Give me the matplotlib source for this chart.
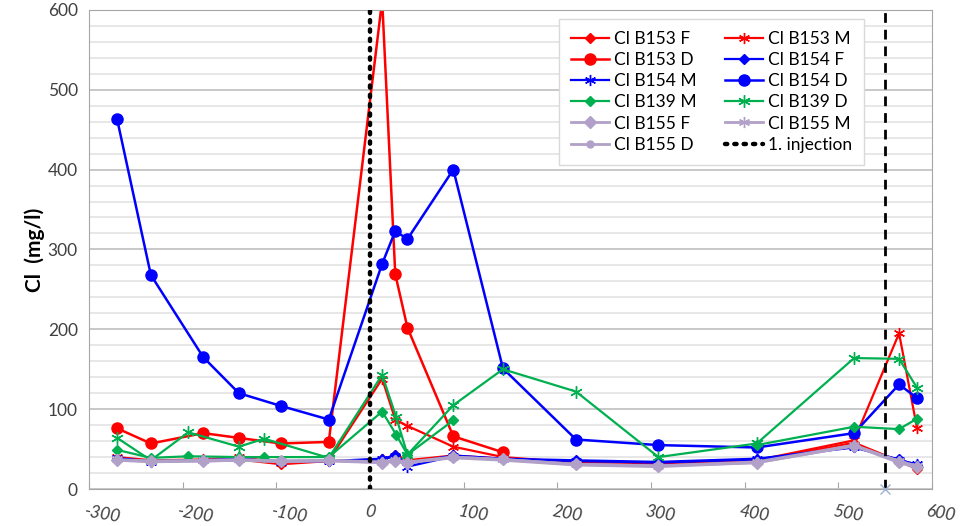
import numpy as np
import matplotlib.pyplot as plt
from matplotlib.transforms import ScaledTranslation

plt.rcParams['font.family'] = ['Lato', 'DejaVu Sans']
plt.rcParams['axes.unicode_minus'] = False

nan = np.nan

# sampling times (days relative to 1. injection)
t_main = [-270, -234, -178, -140, -95, -44, 13, 27, 40, 89, 142, 220, 308, 413, 517, 565, 584]
t_b153d = [-270, -234, -178, -140, -95, -44, 13, 27, 40, 89, 142]
t_b139 = [-270, -234, -194, -140, -113, -44, 13, 28, 40, 89, 142, 220, 308, 413, 517, 565, 584]

b153_f = [38, 35, 36, 37, 31, 35, 37, 43, 36, 42, 38, 33, 31, 35, 58, 35, 25]
b153_m = [40, 36, 37, 40, 33, 36, 138, 87, 79, 53, 40, 33, 31, 36, 61, 195, 77]
b153_d = [76, 57, 70, 64, 57, 59, 612, 269, 202, 66, 46]
b154_f = [38, 35, 36, 37, 35, 35, 38, 42, 32, 42, 38, 36, 34, 38, 52, 37, 30]
b154_m = [39, 34, 36, 38, 34, 35, 37, 41, 28, 41, 37, 35, 33, 37, 53, 36, 31]
b154_d = [463, 268, 165, 120, 104, 87, 282, 323, 313, 400, 151, 62, 55, 52, 70, 131, 114]
b139_m = [49, 39, 41, 40, 40, 40, 97, 68, 43, 86, nan, nan, nan, 55, 78, 75, 88]
b139_d = [64, 36, 71, 53, 63, 39, 143, 90, 43, 105, 150, 122, 40, 57, 164, 163, 127]
b155_f = [36, 35, 35, 36, 35, 36, 33, 35, 33, 40, 37, 31, 29, 33, 54, 34, 28]
b155_m = [37, 35, 36, 37, 35, 36, 34, 36, 34, 40, 37, 31, 29, 34, 55, 35, 29]
b155_d = [36, 34, 35, 36, 34, 35, 33, 35, 33, 39, 36, 30, 28, 33, 54, 33, 27]

RED = '#FF0000'
BLUE = '#0000FF'
GREEN = '#00B050'
LILAC = '#B1A0C7'
star = (6, 2, 0)

fig = plt.figure(figsize=(9.71, 5.26), dpi=100)
ax = fig.add_axes([0.0917, 0.0703, 0.868, 0.911])

h = {}
h['Cl B153 F'], = ax.plot(t_main, b153_f, color=RED, marker='D', ms=5, lw=1.6)
h['Cl B153 M'], = ax.plot(t_main, b153_m, color=RED, marker=star, ms=8, mew=1, lw=1.6)
h['Cl B153 D'], = ax.plot(t_b153d, b153_d, color=RED, marker='o', ms=8, lw=1.8)
h['Cl B154 F'], = ax.plot(t_main, b154_f, color=BLUE, marker='D', ms=5, lw=1.6)
h['Cl B154 M'], = ax.plot(t_main, b154_m, color=BLUE, marker=star, ms=8, mew=1, lw=1.6)
h['Cl B154 D'], = ax.plot(t_main, b154_d, color=BLUE, marker='o', ms=8, lw=1.8)
h['Cl B139 M'], = ax.plot(t_b139, b139_m, color=GREEN, marker='D', ms=5, lw=1.6)
h['Cl B139 D'], = ax.plot(t_b139, b139_d, color=GREEN, marker=star, ms=9, mew=1, lw=1.6)
h['Cl B155 F'], = ax.plot(t_main, b155_f, color=LILAC, marker='D', ms=6, lw=2)
h['Cl B155 M'], = ax.plot(t_main, b155_m, color=LILAC, marker=star, ms=8, mew=1, lw=2)
h['Cl B155 D'], = ax.plot(t_main, b155_d, color=LILAC, marker='o', ms=5, lw=2)

# injection markers
h['1. injection'] = ax.axvline(0, color='black', ls=(0, (0.5, 1.6)), lw=3.2,
                               dash_capstyle='round', zorder=5)
ax.axvline(550, color='black', ls=(0, (3.5, 2.5)), lw=2, zorder=5)
ax.plot([550], [0], marker='x', color='#9DB3D6', ms=7, mew=1, clip_on=False, zorder=6)

ax.set_xlim(-300, 600)
ax.set_ylim(0, 600)
ax.set_xticks(range(-300, 601, 100))
ax.set_yticks(range(0, 601, 100))
ax.set_yticks(range(0, 601, 20), minor=True)
ax.grid(True, axis='y', which='major', color='#BFBFBF', lw=1.2)
ax.grid(True, axis='y', which='minor', color='#E3E3E3', lw=1.2)
ax.set_axisbelow(True)

for s in ax.spines.values():
    s.set_color('#A6A6A6')
ax.tick_params(axis='y', which='both', length=0, labelsize=12.5, labelcolor='#404040', pad=8)
ax.tick_params(axis='x', length=5, direction='in', color='#A6A6A6', labelsize=12.5,
               labelcolor='#404040', pad=10)
shift = ScaledTranslation(-4 / 100, 0, fig.dpi_scale_trans)
for lab in ax.get_xticklabels():
    lab.set_rotation(-10)
    lab.set_style('italic')
    lab.set_horizontalalignment('left')
    lab.set_rotation_mode('anchor')
    lab.set_transform(lab.get_transform() + shift)

ax.set_ylabel('Cl  (mg/l)', fontsize=15, fontweight='bold', labelpad=2)

order = ['Cl B153 F', 'Cl B153 D', 'Cl B154 M', 'Cl B139 M', 'Cl B155 F', 'Cl B155 D',
         'Cl B153 M', 'Cl B154 F', 'Cl B154 D', 'Cl B139 D', 'Cl B155 M', '1. injection']
leg = ax.legend([h[k] for k in order], order, ncol=2, loc='upper right',
                bbox_to_anchor=(0.93, 1.0), fontsize=12.5, frameon=True,
                fancybox=False, edgecolor='#D9D9D9', framealpha=1,
                handlelength=2.2, handletextpad=0.3, columnspacing=1.6,
                labelspacing=0.3, borderpad=0.7)
leg.set_zorder(10)

fig.savefig('out.png', dpi=100)
